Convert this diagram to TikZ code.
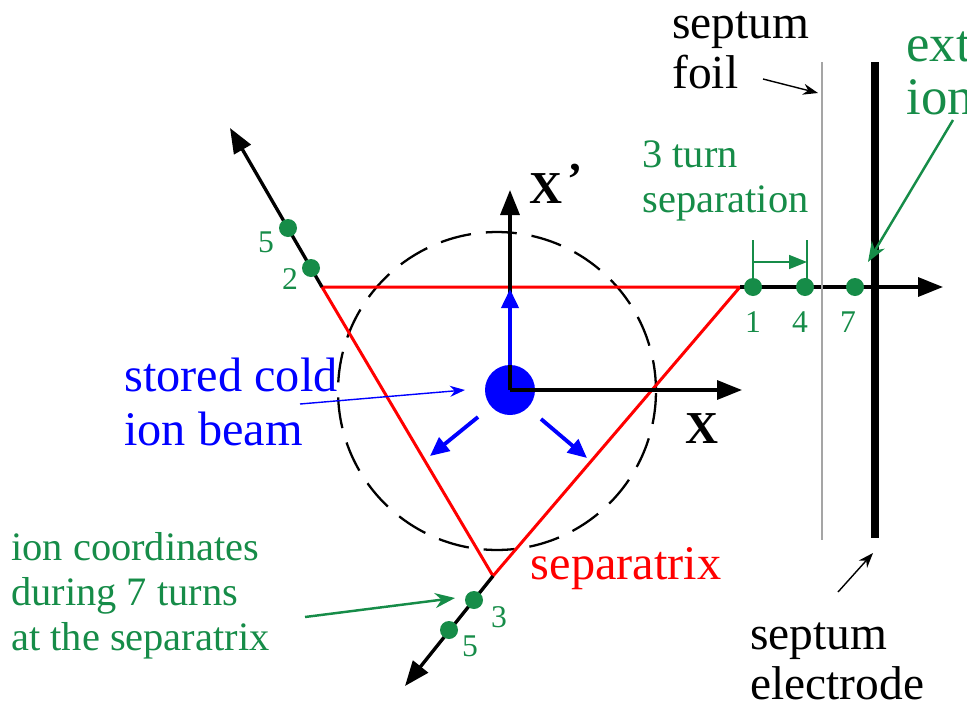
\documentclass[tikz,border=0pt]{standalone}
\usepackage{fontspec}
\setmainfont{Liberation Serif}
\usepackage{xcolor}
\usetikzlibrary{arrows.meta,calc}
\definecolor{iongreen}{RGB}{22,140,72}
\definecolor{foilgray}{RGB}{165,165,165}

\begin{document}
\begin{tikzpicture}[
  x=0.02cm, y=-0.02cm,
  axis/.style={line width=1.9pt, -{Triangle[length=5mm,width=3.8mm]}},
  sepx/.style={red, line width=1.7pt, line join=miter},
  orbit/.style={line width=1.3pt, dash pattern=on 0.62cm off 0.3cm},
  dot/.style={circle, fill=iongreen, inner sep=0pt, minimum size=0.36cm},
  turn/.style={text=iongreen, font=\fontsize{18}{20}\selectfont, inner sep=1pt},
  kick/.style={blue, line width=2.2pt, -{Triangle[length=3.8mm,width=3.4mm]}},
  ptr/.style={line width=0.8pt, -{Stealth[length=3mm,width=2.2mm]}},
  gptr/.style={iongreen, line width=1.4pt, -{Stealth[length=4mm,width=3mm]}},
  big/.style={font=\fontsize{27}{28.5}\selectfont, align=left, inner sep=0pt},
  mid/.style={font=\fontsize{23}{25.6}\selectfont, align=left, inner sep=0pt, text=iongreen},
  axlbl/.style={font=\fontsize{26}{27}\selectfont\bfseries, inner sep=0pt},
]
\useasboundingbox (0,0) rectangle (967,707);
\clip (0,0) rectangle (967,707);

% phase space axes and separatrix
\coordinate (O) at (510,390);
\coordinate (A) at (322,287);
\coordinate (B) at (740,287);
\coordinate (C) at (493,576);
\coordinate (xtip) at (742,390);
\coordinate (ytip) at (510,190);
\coordinate (atip) at (230,128);
\coordinate (btip) at (943,287);
\coordinate (ctip) at (405,686);

\draw[orbit] (497,391) circle (3.18cm);
\draw[sepx] (A) -- (B) -- (C) -- cycle;
\draw[axis] (A) -- (atip);
\draw[axis] (B) -- (btip);
\draw[axis] (C) -- (ctip);

\node[circle, fill=blue, inner sep=0pt, minimum size=1cm] (beam) at (O) {};
\draw[axis] (O) -- (xtip);
\draw[axis] (O) -- (ytip);
\coordinate (kl) at (478,417);
\coordinate (kr) at (541,419);
\draw[kick] (beam.north) -- (510,289);
\draw[kick] (kl) -- (430,456);
\draw[kick] (kr) -- (587,458);

\node[axlbl] (xlbl) at (702,429) {X};
\node[axlbl, anchor=west] (xplbl) at (529,184) {X\hspace{0.12em}\raisebox{0.45ex}{’}};

% septum
\coordinate (foiltop) at (822,62);
\coordinate (foilbot) at (822,540);
\coordinate (electop) at (875,62);
\coordinate (elecbot) at (875,538);
\draw[foilgray, line width=0.7pt] (foiltop) -- (foilbot);
\draw[line width=4pt] (electop) -- (elecbot);

% ion positions turn by turn
\node[dot] (p1) at (753,287) {};
\node[dot] (p4) at (805,287) {};
\node[dot] (p7) at (855,287) {};
\node[dot] (p2) at (311,268) {};
\node[dot] (p5a) at (288,228) {};
\node[dot] (p3) at (474,600) {};
\node[dot] (p5b) at (449,630) {};
\node[turn] at (753,322) {1};
\node[turn] at (800,322) {4};
\node[turn] at (848,322) {7};
\node[turn] at (290,279) {2};
\node[turn] at (266,242) {5};
\node[turn] at (499,617) {3};
\node[turn] at (470,646) {5};

\draw[iongreen, line width=1pt] (p1.center) -- ++(0,-47);
\draw[iongreen, line width=1pt] (p4.center) ++(2,0) -- ++(0,-47);
\draw[iongreen, line width=1pt, -{Triangle[length=3.6mm,width=2.8mm]}] (753,262) -- (807,262);

% labels
\node[big, anchor=west] (foil) at (672,50) {septum\\foil};
\node[big, anchor=west] (elec) at (750,661) {septum\\electrode};
\node[big, anchor=west, text=iongreen, font=\fontsize{30}{30}\selectfont] (extr) at (906,70) {extracted\\ions};
\node[big, anchor=west, text=blue, font=\fontsize{27.5}{31}\selectfont] (stored) at (124,402) {stored cold\\ion beam};
\node[mid, anchor=west] (sep3) at (642,181) {3 turn\\separation};
\node[mid, anchor=west] (coords) at (11,596) {ion coordinates\\during 7 turns\\at the separatrix};
\node[big, text=red, font=\fontsize{27.5}{30}\selectfont] (sepxlbl) at (626,569) {separatrix};

\draw[ptr] (763,79) -- (818,93);
\draw[ptr] (838,592) -- (873,553);
\draw[blue, line width=0.8pt, -{Stealth[length=3mm,width=2.2mm]}] (300,404) -- (465,390);
\draw[gptr] (953,120) -- (868,262);
\draw[gptr] (305,617) -- (455,598);
\end{tikzpicture}
\end{document}
